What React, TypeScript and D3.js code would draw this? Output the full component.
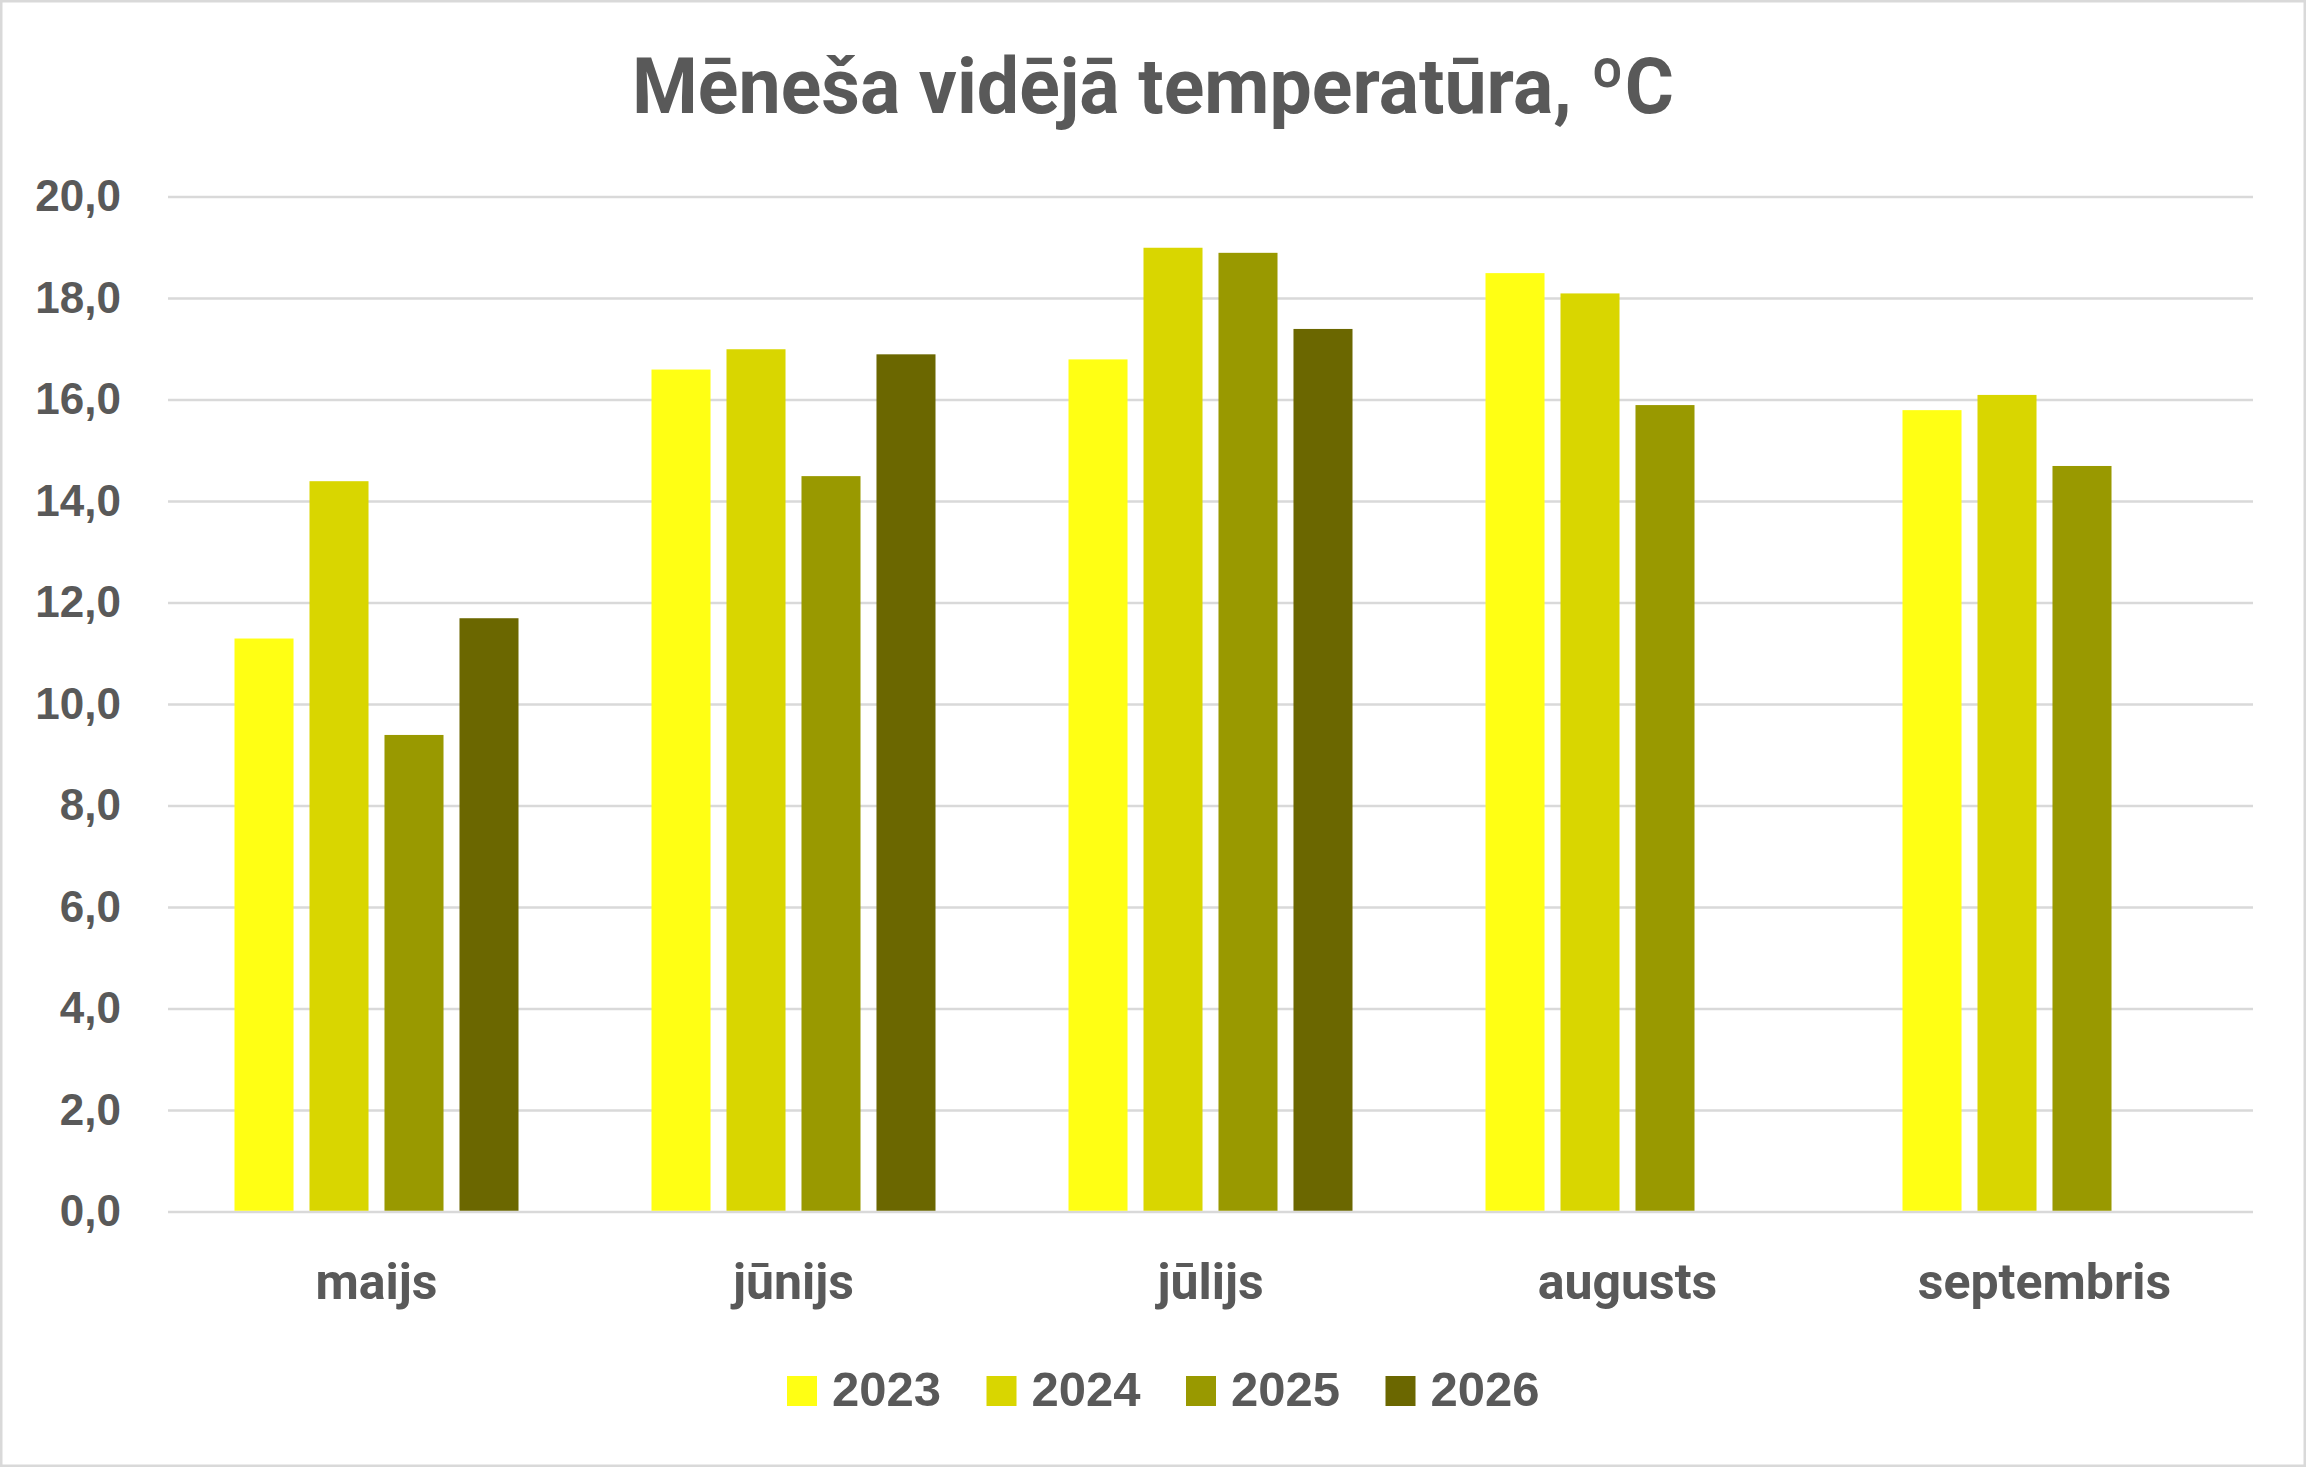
import * as d3 from 'd3'

const months = ['maijs', 'jūnijs', 'jūlijs', 'augusts', 'septembris']
const years = ['2023', '2024', '2025', '2026']

// month averages per year, null = no data yet
const t2023 = [11.3, 16.6, 16.8, 18.5, 15.8]
const t2024 = [14.4, 17.0, 19.0, 18.1, 16.1]
const t2025 = [9.4, 14.5, 18.9, 15.9, 14.7]
const t2026 = [11.7, 16.9, 17.4, null, null]

const yTicks = [0, 2, 4, 6, 8, 10, 12, 14, 16, 18, 20]
const colors = ['#FFFF14', '#D9D600', '#999900', '#6B6700']

const W = 2306
const H = 1467
const plot = { left: 168, right: 2253, top: 197, bottom: 1212 }
const textColor = '#595959'
const gridColor = '#D9D9D9'
const titleFont = 'Roboto, "Liberation Sans", sans-serif'
const labelFont = '"Liberation Sans", Arial, sans-serif'

export default function App() {
  const series = [t2023, t2024, t2025, t2026]

  const x0 = d3.scaleBand<string>().domain(months).range([plot.left, plot.right])
  const groupW = 284
  const x1 = d3
    .scaleBand<string>()
    .domain(years)
    .range([(x0.bandwidth() - groupW) / 2, (x0.bandwidth() + groupW) / 2])
    .paddingInner(0.213)

  const y = d3.scaleLinear().domain([0, 20]).range([plot.bottom, plot.top])
  const fmt = (v: number) => d3.format('.1f')(v).replace('.', ',')

  const legendX = d3
    .scaleBand<string>()
    .domain(years)
    .range([787, 787 + 4 * 199.5])

  return (
    <svg
      width={W}
      height={H}
      style={{ position: 'absolute', left: 0, top: 0, display: 'block', background: '#fff' }}
    >
      <rect x={1.25} y={1.25} width={W - 2.5} height={H - 2.5} fill="#fff" stroke={gridColor} strokeWidth={2.5} />

      <text
        x={W / 2}
        y={113}
        textAnchor="middle"
        fontFamily={titleFont}
        fontWeight="bold"
        fontSize={77}
        fill={textColor}
        textLength={1042}
        lengthAdjust="spacingAndGlyphs"
      >
        Mēneša vidējā temperatūra, ºC
      </text>

      {/* grid + y labels */}
      {yTicks.map((t) => (
        <g key={t}>
          <line x1={plot.left} x2={plot.right} y1={y(t)} y2={y(t)} stroke={gridColor} strokeWidth={2.5} />
          <text
            x={121}
            y={y(t) + 14}
            textAnchor="end"
            fontFamily={labelFont}
            fontWeight="bold"
            fontSize={44}
            fill={textColor}
          >
            {fmt(t)}
          </text>
        </g>
      ))}

      {/* bars */}
      {months.map((m, i) => (
        <g key={m} transform={`translate(${x0(m)},0)`}>
          {years.map((yr, j) => {
            const v = series[j][i]
            if (v == null) return null
            return (
              <rect
                key={yr}
                x={x1(yr)}
                y={y(v)}
                width={x1.bandwidth()}
                height={y(0) - y(v) - 1.25}
                fill={colors[j]}
              />
            )
          })}
          <text
            x={x0.bandwidth() / 2}
            y={1299}
            textAnchor="middle"
            fontFamily={titleFont}
            fontWeight="bold"
            fontSize={50}
            fill={textColor}
          >
            {m}
          </text>
        </g>
      ))}

      {/* legend */}
      {years.map((yr, j) => (
        <g key={yr} transform={`translate(${legendX(yr)},0)`}>
          <rect x={0} y={1376} width={30} height={30} fill={colors[j]} />
          <text x={45} y={1406} fontFamily={labelFont} fontWeight="bold" fontSize={49} fill={textColor}>
            {yr}
          </text>
        </g>
      ))}
    </svg>
  )
}
